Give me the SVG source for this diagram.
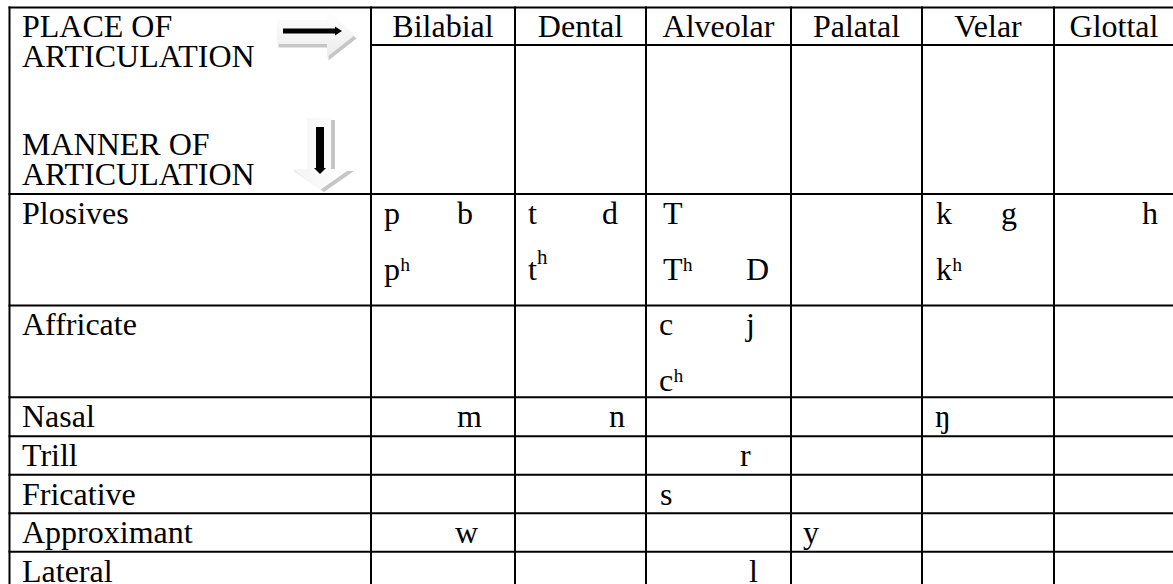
<svg xmlns="http://www.w3.org/2000/svg" width="1173" height="584" viewBox="0 0 1173 584">
  <style>
    text { font-family: "Liberation Serif", "Times New Roman", serif; font-size: 32px; fill: #000; }
    .c { text-anchor: middle; }
    .grid line { stroke: #000; stroke-width: 2; }
    .sup { font-size: 21px; }
  </style>
  <defs>
    <linearGradient id="gh" x1="0" y1="0" x2="0" y2="1">
      <stop offset="0" stop-color="#ffffff"/>
      <stop offset="1" stop-color="#ececec"/>
    </linearGradient>
    <linearGradient id="gv" x1="0" y1="0" x2="1" y2="0">
      <stop offset="0" stop-color="#f4f4f4"/>
      <stop offset="1" stop-color="#ffffff"/>
    </linearGradient>
  </defs>
  <rect width="1173" height="584" fill="#fff"/>

  <g id="grid" class="grid">
    <line x1="8.5" y1="7.5" x2="1176" y2="7.5"/>
    <line x1="371" y1="45" x2="1176" y2="45"/>
    <line x1="8.5" y1="194" x2="1176" y2="194"/>
    <line x1="8.5" y1="305.5" x2="1176" y2="305.5"/>
    <line x1="8.5" y1="397.3" x2="1176" y2="397.3"/>
    <line x1="8.5" y1="436.2" x2="1176" y2="436.2"/>
    <line x1="8.5" y1="474.7" x2="1176" y2="474.7"/>
    <line x1="8.5" y1="513.3" x2="1176" y2="513.3"/>
    <line x1="8.5" y1="551.7" x2="1176" y2="551.7"/>
    <line x1="8.5" y1="590" x2="1176" y2="590"/>
    <line x1="9.5" y1="6.5" x2="9.5" y2="591"/>
    <line x1="371" y1="6.5" x2="371" y2="591"/>
    <line x1="515" y1="6.5" x2="515" y2="591"/>
    <line x1="646" y1="6.5" x2="646" y2="591"/>
    <line x1="791" y1="6.5" x2="791" y2="591"/>
    <line x1="922" y1="6.5" x2="922" y2="591"/>
    <line x1="1054" y1="6.5" x2="1054" y2="591"/>
    <line x1="1175" y1="6.5" x2="1175" y2="591"/>
  </g>

  <g id="corner">
    <text x="22" y="37">PLACE OF</text>
    <text x="22" y="67">ARTICULATION</text>
    <text x="22" y="155">MANNER OF</text>
    <text x="22" y="185">ARTICULATION</text>
    <g id="arrow-right">
      <polygon points="278.5,23.5 328.5,23.5 328.5,13.5 356.5,38.5 328.5,60.5 328.5,47.5 278.5,47.5" fill="#c6c6c6"/>
      <polygon points="277,20 327,20 327,10 355,35 327,57 327,44 277,44" fill="url(#gh)"/>
      <rect x="283" y="28.5" width="52" height="5" fill="#000"/>
      <polygon points="335,26.5 342,31 335,35.5" fill="#000"/>
    </g>
    <g id="arrow-down">
      <polygon points="311,120 335,120 335,171 354,171 324,192 294,171 311,171" fill="#c6c6c6"/>
      <polygon points="307,118 331,118 331,169 350,169 320,190 292,169 307,169" fill="url(#gv)"/>
      <rect x="316" y="127" width="8" height="41" fill="#000"/>
      <polygon points="314,168 326,168 320,174" fill="#000"/>
    </g>
  </g>

  <g id="header">
    <text class="c" x="443" y="37">Bilabial</text>
    <text class="c" x="580.5" y="37">Dental</text>
    <text class="c" x="718.5" y="37">Alveolar</text>
    <text class="c" x="856.5" y="37">Palatal</text>
    <text class="c" x="988" y="37">Velar</text>
    <text class="c" x="1114" y="37">Glottal</text>
  </g>

  <g id="row-plosives">
    <text x="22" y="223.5">Plosives</text>
    <text x="384" y="223.5">p</text>
    <text x="457" y="223.5">b</text>
    <text x="528" y="223.5">t</text>
    <text x="602" y="223.5">d</text>
    <text x="663" y="223.5">T</text>
    <text x="936" y="223.5">k</text>
    <text x="1001" y="223.5">g</text>
    <text x="1142" y="223.5">h</text>
    <text x="384" y="279.5">pʰ</text>
    <text x="528" y="279.5">t<tspan class="sup" dy="-16">h</tspan></text>
    <text x="663" y="279.5">Tʰ</text>
    <text x="746" y="279.5">D</text>
    <text x="936" y="279.5">kʰ</text>
  </g>

  <g id="row-affricate">
    <text x="22" y="335">Affricate</text>
    <text x="659" y="335">c</text>
    <text x="746" y="335">j</text>
    <text x="659" y="390.5">cʰ</text>
  </g>

  <g id="row-nasal">
    <text x="22" y="427">Nasal</text>
    <text x="457" y="427">m</text>
    <text x="609" y="427">n</text>
    <text x="935" y="427">ŋ</text>
  </g>

  <g id="row-trill">
    <text x="22" y="466">Trill</text>
    <text x="740" y="466">r</text>
  </g>

  <g id="row-fricative">
    <text x="22" y="504.5">Fricative</text>
    <text x="660" y="504.5">s</text>
  </g>

  <g id="row-approximant">
    <text x="22" y="543">Approximant</text>
    <text x="455" y="543">w</text>
    <text x="803" y="543">y</text>
  </g>

  <g id="row-lateral">
    <text x="22" y="581.5">Lateral</text>
    <text x="749" y="581.5">l</text>
  </g>
</svg>
